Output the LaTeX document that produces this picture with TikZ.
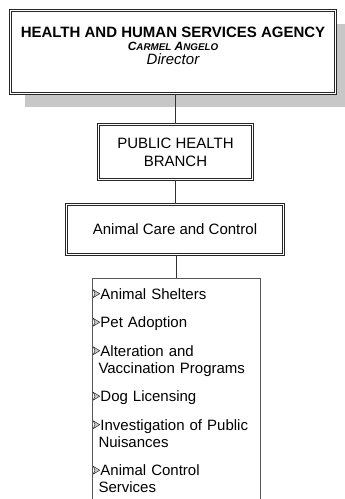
\documentclass[tikz,border=0pt]{standalone}
\usepackage{fontspec}
\setmainfont{Liberation Sans}
\usetikzlibrary{calc,shadows}

\newcommand{\itemarrow}{\tikz[baseline=0pt, x=1pt, y=1pt]{\filldraw[draw=black!90, fill=black!20, line width=0.45pt, line join=round] (0,1.5) -- (6.5,5.4) -- (0,9.3) -- (1.8,5.4) -- cycle;}\hspace{0.5pt}}

\begin{document}
\begin{tikzpicture}[x=1pt, y=1pt,
  box/.style={draw=black!85, double, line width=0.7pt, double distance=1.6pt, fill=white, align=center, inner sep=0pt},
  conn/.style={draw=black!80, line width=0.8pt}]

\clip (0,0) rectangle (345,-499);

\node[box, minimum width=325, minimum height=83, drop shadow={opacity=1, fill=black!22, shadow xshift=14pt, shadow yshift=-13pt}] (hhsa) at (173,-52) {};

\node[align=center, inner sep=0pt, anchor=north, font=\fontsize{15}{13}\selectfont] (hhsatxt) at ($(hhsa.north) + (0,-17)$)
  {\bfseries HEALTH AND HUMAN SERVICES AGENCY\\[-0.5pt]
   {\bfseries\itshape\fontsize{12}{13}\selectfont C{\fontsize{9.8}{13}\selectfont ARMEL} A{\fontsize{9.8}{13}\selectfont NGELO}}\\[1.5pt]
   \itshape Director};

\node[box, minimum width=154, minimum height=55, font=\fontsize{15}{18}\selectfont] (ph) at ($(hhsa) + (2.5,-100)$) {PUBLIC HEALTH\\BRANCH};

\node[box, minimum width=217, minimum height=50, font=\fontsize{15}{18}\selectfont] (acc) at ($(ph) + (-0.5,-77.5)$) {Animal Care and Control};

\node[draw=black!65, line width=0.8pt, anchor=north, text width=166, inner xsep=1pt, inner ysep=9.5pt, align=left, font=\fontsize{15}{17}\selectfont] (lst) at ($(acc.south) + (1,-23.5)$)
  {\itemarrow Animal Shelters\\[11.5pt]
   \itemarrow Pet Adoption\\[11.5pt]
   \itemarrow Alteration and\\
   \hspace*{5.5pt}Vaccination Programs\\[11.5pt]
   \itemarrow Dog Licensing\\[11.5pt]
   \itemarrow Investigation of Public\\
   \hspace*{5.5pt}Nuisances\\[11.5pt]
   \itemarrow Animal Control\\
   \hspace*{5.5pt}Services\\[12pt]
   \mbox{}};

\draw[conn] (hhsa.south -| ph.north) -- (ph.north);
\draw[conn] (ph.south -| acc.north) -- (acc.north);
\draw[conn] (acc.south -| lst.north) -- (lst.north);

\end{tikzpicture}
\end{document}
